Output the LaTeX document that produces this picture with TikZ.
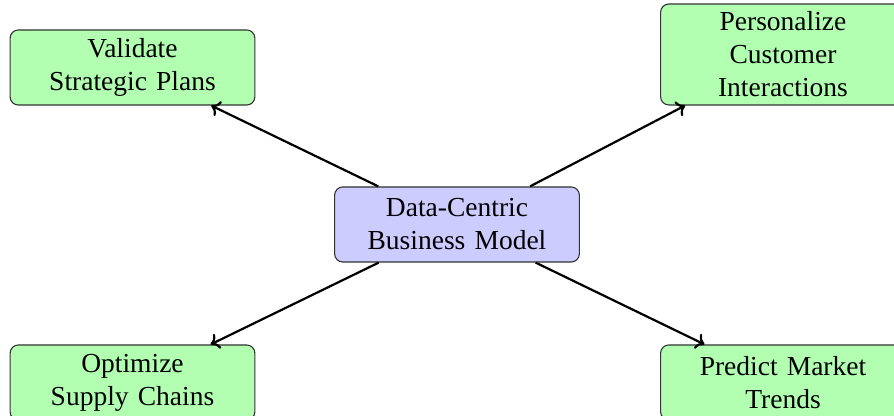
\documentclass[tikz,border=0pt]{standalone}
\usepackage{fontspec}
\setmainfont{Liberation Serif}
\usetikzlibrary{arrows.meta}
\tikzset{
  box/.style={draw=black!80, rounded corners=3pt, align=center,
    text width=66pt, minimum width=89pt, minimum height=27.3pt,
    inner ysep=3pt, font=\fontsize{10}{12}\selectfont},
  outbox/.style={box, fill=green!30},
  hubbox/.style={box, fill=blue!20},
  link/.style={thick, -{To[length=3pt,width=6pt]}}
}
\begin{document}
\begin{tikzpicture}[x=0.3636pt, y=-0.3636pt]
  \clip (0,0) rectangle (894,416);
  \node[hubbox] (hub) at (457,224.5) {Data-Centric\\Business Model};
  \node[outbox] (plans) at (132.5,67.5) {Validate\\Strategic Plans};
  \node[outbox, minimum height=36.7pt, inner ysep=1pt] (cust) at (783,54.5) {Personalize\\Customer\\Interactions};
  \node[outbox] (supply) at (132.5,382.5) {Optimize\\Supply Chains};
  \node[outbox] (trends) at (783,382.5) {Predict Market\\Trends};
  \draw[link] (hub) -- (plans);
  \draw[link] (hub) -- (cust);
  \draw[link] (hub) -- (supply);
  \draw[link] (hub) -- (trends);
\end{tikzpicture}
\end{document}
